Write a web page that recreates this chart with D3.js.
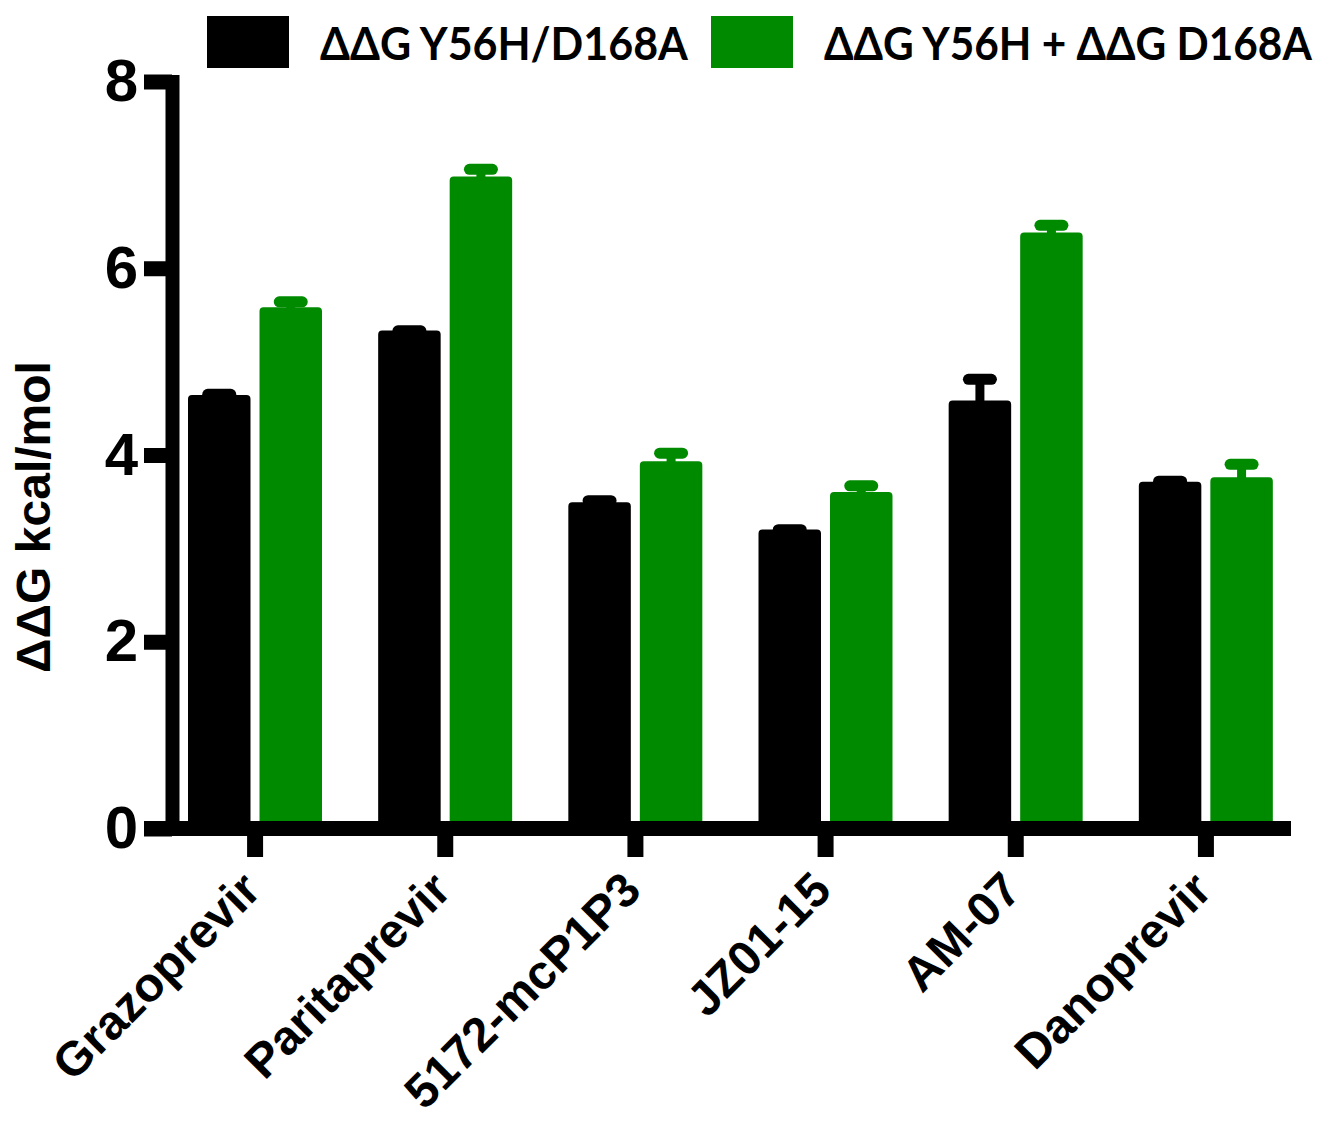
<!DOCTYPE html>
<html>
<head>
<meta charset="utf-8">
<style>
  body { margin: 0; background: #fff; }
</style>
</head>
<body>
<svg id="chart" width="1324" height="1125"></svg>

<script src="https://d3js.org/d3.v7.min.js"></script>
<script>
  // values
  const categories = ['Grazoprevir', 'Paritaprevir', '5172-mcP1P3', 'JZ01-15', 'AM-07', 'Danoprevir']
  const seriesNames = ['ΔΔG Y56H/D168A', 'ΔΔG Y56H + ΔΔG D168A']
  const seriesColors = ['#000000', '#008a00']
  const doubleMutant = [4.60, 5.29, 3.45, 3.16, 4.54, 3.67]
  const doubleMutantErr = [0.05, 0.04, 0.06, 0.04, 0.27, 0.05]
  const sumOfSingles = [5.54, 6.94, 3.89, 3.56, 6.34, 3.72]
  const sumOfSinglesErr = [0.10, 0.12, 0.13, 0.11, 0.12, 0.18]
  const yTicks = [0, 2, 4, 6, 8]

  const svg = d3.select('#chart')
  const font = '"Liberation Sans", Arial, sans-serif'

  // scales
  const y = d3.scaleLinear().domain([0, 8]).range([828.5, 81.5])
  const x = d3.scaleBand().domain(categories).range([160, 1301])
  const xSub = d3.scaleBand().domain(seriesNames).range([28, 162]).paddingInner(0.126)

  const rows = categories.map((c, i) => ({
    cat: c,
    values: [
      { key: seriesNames[0], v: doubleMutant[i], e: doubleMutantErr[i], color: seriesColors[0] },
      { key: seriesNames[1], v: sumOfSingles[i], e: sumOfSinglesErr[i], color: seriesColors[1] }
    ]
  }))

  const barStroke = 8

  const groups = svg.append('g')
    .selectAll('g')
    .data(rows)
    .join('g')
    .attr('transform', d => `translate(${x(d.cat)},0)`)

  // bars, outlined in their own colour so the corners come out rounded
  groups.selectAll('rect')
    .data(d => d.values)
    .join('rect')
    .attr('x', d => xSub(d.key) + barStroke / 2)
    .attr('width', xSub.bandwidth() - barStroke)
    .attr('y', d => y(d.v))
    .attr('height', d => y(0) - y(d.v))
    .attr('fill', d => d.color)
    .attr('stroke', d => d.color)
    .attr('stroke-width', barStroke)
    .attr('stroke-linejoin', 'round')

  // upper error bars
  groups.selectAll('line.stem')
    .data(d => d.values)
    .join('line')
    .attr('class', 'stem')
    .attr('x1', d => xSub(d.key) + xSub.bandwidth() / 2)
    .attr('x2', d => xSub(d.key) + xSub.bandwidth() / 2)
    .attr('y1', d => y(d.v))
    .attr('y2', d => y(d.v + d.e))
    .attr('stroke', d => d.color)
    .attr('stroke-width', 9)

  groups.selectAll('line.cap')
    .data(d => d.values)
    .join('line')
    .attr('class', 'cap')
    .attr('x1', d => xSub(d.key) + xSub.bandwidth() / 2 - 11.5)
    .attr('x2', d => xSub(d.key) + xSub.bandwidth() / 2 + 11.5)
    .attr('y1', d => y(d.v + d.e))
    .attr('y2', d => y(d.v + d.e))
    .attr('stroke', d => d.color)
    .attr('stroke-width', 11)
    .attr('stroke-linecap', 'round')

  // y axis
  const yAxis = svg.append('g')
    .attr('transform', 'translate(172,0)')
    .call(d3.axisLeft(y).tickValues(yTicks).tickSize(28).tickSizeOuter(0).tickPadding(6))
  yAxis.select('.domain')
    .attr('stroke-width', 14)
    .attr('stroke-linecap', 'square')
  yAxis.selectAll('.tick line').attr('stroke-width', 15)
  yAxis.selectAll('.tick text')
    .attr('font-family', font)
    .attr('font-weight', 'bold')
    .attr('font-size', 60)
    .attr('fill', '#000')

  // x axis
  const xAxis = svg.append('g')
    .attr('transform', `translate(0,${y(0)})`)
    .call(d3.axisBottom(x).tickSize(28.5).tickSizeOuter(0))
  xAxis.select('.domain').remove()
  xAxis.append('line')
    .attr('x1', 144)
    .attr('x2', 1291)
    .attr('stroke', '#000')
    .attr('stroke-width', 15)
  xAxis.selectAll('.tick line').attr('stroke-width', 16)
  xAxis.selectAll('.tick text')
    .attr('y', null)
    .attr('dy', null)
    .attr('text-anchor', 'end')
    .attr('transform', 'translate(8,64) rotate(-45)')
    .attr('font-family', font)
    .attr('font-weight', 'bold')
    .attr('font-size', 48)
    .attr('fill', '#000')

  // y title
  svg.append('text')
    .attr('transform', 'translate(50,517) rotate(-90)')
    .attr('text-anchor', 'middle')
    .attr('font-family', font)
    .attr('font-weight', 'bold')
    .attr('font-size', 48)
    .text('ΔΔG kcal/mol')

  // legend
  const legendX = [207, 711]
  const legendTextWidth = [368, 488]
  const legend = svg.append('g')
    .selectAll('g')
    .data(seriesNames)
    .join('g')
    .attr('transform', (d, i) => `translate(${legendX[i]},16)`)
  legend.append('rect')
    .attr('width', 82)
    .attr('height', 52)
    .attr('fill', (d, i) => seriesColors[i])
  // squeeze the label horizontally to the width it has in the figure
  legend.append('text')
    .attr('font-family', 'Lato, "Open Sans", sans-serif')
    .attr('font-weight', 'bold')
    .attr('font-size', 46)
    .text(d => d)
    .attr('transform', function(d, i) {
      const s = legendTextWidth[i] / this.getComputedTextLength()
      return `translate(113,44) scale(${s},1)`
    })
</script>
</body>
</html>
